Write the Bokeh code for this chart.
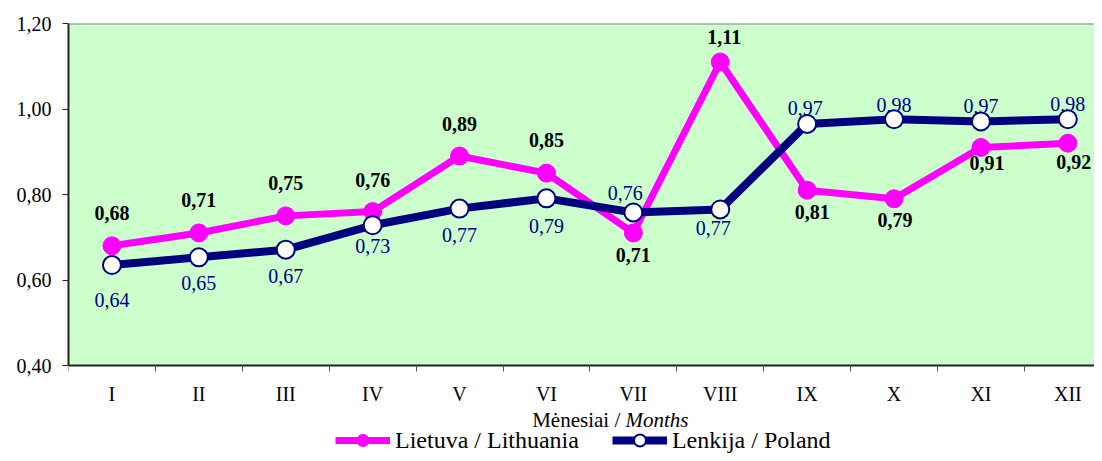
from bokeh.plotting import figure
from bokeh.models import (Range1d, FixedTicker, CustomJSTickFormatter, Span, Label,
                          Legend, LegendItem, ColumnDataSource, BoxAnnotation)
from bokeh.core.properties import value
from bokeh.embed import file_html
from bokeh.resources import INLINE

# ---- data ----
months = ["I", "II", "III", "IV", "V", "VI", "VII", "VIII", "IX", "X", "XI", "XII"]
lt_values = [0.68, 0.71, 0.75, 0.76, 0.89, 0.85, 0.71, 1.11, 0.81, 0.79, 0.91, 0.92]
lt_labels = ["0,68", "0,71", "0,75", "0,76", "0,89", "0,85", "0,71", "1,11", "0,81", "0,79", "0,91", "0,92"]
pl_values = [0.635, 0.653, 0.671, 0.728, 0.767, 0.791, 0.758, 0.765, 0.965, 0.976, 0.971, 0.976]
pl_labels = ["0,64", "0,65", "0,67", "0,73", "0,77", "0,79", "0,76", "0,77", "0,97", "0,98", "0,97", "0,98"]
y_ticks = [0.4, 0.6, 0.8, 1.0, 1.2]
y_min, y_max = 0.4, 1.2
lt_name = "Lietuva / Lithuania"
pl_name = "Lenkija / Poland"
x_title_a = "Mėnesiai / "
x_title_b = "Months"

# ---- label placement (screen px, positive = down) ----
lt_dx = [0, 0, 0, 0, 0, 0, 0, 4, 5, 1, 6, 6]
lt_dy = [-33, -33, -33, -32, -32, -33, 22, -25, 22, 21, 16, 19]
pl_dx = [0, 0, 0, 0, 0, 0, -8, -7, -2, 0, 0, 0]
pl_dy = [35, 26, 26, 21, 26, 28, -19, 19, -16, -14, -15, -15]

FONT = "Liberation Serif"
PINK = "#FF00FF"
NAVY = "#000080"

# layout (pixels)
W, H = 1094, 453
LEFT, TOP = 68, 23
PLOT_H = 342              # height of the green plot area
CAT_W = 86.9              # pixel width of one month slot
px_per_unit = PLOT_H / (y_max - y_min)
frame_h = H - TOP
y_low = y_max - frame_h / px_per_unit
x_high = (W - LEFT) / CAT_W

xs = [i + 0.5 for i in range(len(months))]
lt_src = ColumnDataSource(dict(x=xs, y=lt_values, t=lt_labels, dx=lt_dx, dy=lt_dy))
pl_src = ColumnDataSource(dict(x=xs, y=pl_values, t=pl_labels, dx=pl_dx, dy=pl_dy))

p = figure(width=W, height=H, output_backend="svg", toolbar_location=None,
           x_range=Range1d(0, x_high), y_range=Range1d(y_low, y_max),
           min_border_left=LEFT, min_border_right=0, min_border_top=TOP, min_border_bottom=0)
p.background_fill_color = "white"
p.border_fill_color = "white"
p.outline_line_color = None
p.xgrid.visible = False
p.ygrid.visible = False

p.add_layout(BoxAnnotation(bottom=y_min, top=y_max, left=0, right=x_high,
                           fill_color="#CCFFCC", fill_alpha=1, line_color=None, level="underlay"))
p.add_layout(Span(location=y_max, dimension="width", line_color="#808080", line_width=2))

# axes
p.yaxis.bounds = (y_min, y_max)
p.yaxis.ticker = FixedTicker(ticks=y_ticks)
p.yaxis.formatter = CustomJSTickFormatter(code="return tick.toFixed(2).replace('.', ',');")
p.yaxis.major_label_text_font = FONT
p.yaxis.major_label_text_font_size = "20px"
p.yaxis.major_label_text_color = "black"
p.yaxis.major_tick_in = 0
p.yaxis.major_tick_out = 6
p.yaxis.minor_tick_line_color = None
p.yaxis.major_label_standoff = 11
p.yaxis.axis_line_color = "#222222"
p.yaxis.axis_line_width = 2
p.yaxis.major_tick_line_color = "#222222"

p.xaxis.fixed_location = y_min
p.xaxis.ticker = FixedTicker(ticks=xs, minor_ticks=list(range(0, 13)))
p.xaxis.formatter = CustomJSTickFormatter(args=dict(labels=months),
                                          code="return labels[Math.round(tick - 0.5)];")
p.xaxis.major_label_text_font = FONT
p.xaxis.major_label_text_font_size = "20px"
p.xaxis.major_label_text_color = "black"
p.xaxis.major_tick_in = 0
p.xaxis.major_tick_out = 0
p.xaxis.minor_tick_in = 0
p.xaxis.minor_tick_out = 6
p.xaxis.minor_tick_line_color = "#555555"
p.xaxis.major_label_standoff = 11
p.xaxis.axis_line_color = "#222222"
p.xaxis.axis_line_width = 2

# series
lt_line = p.line("x", "y", source=lt_src, line_color=PINK, line_width=7)
lt_mark = p.scatter("x", "y", source=lt_src, size=18, fill_color=PINK, line_color=PINK)
pl_line = p.line("x", "y", source=pl_src, line_color=NAVY, line_width=8)
p.text("x", "y", text="t", source=pl_src, x_offset="dx", y_offset="dy",
       text_font=value(FONT), text_font_size="20px",
       text_color=NAVY, text_align="center", text_baseline="middle")
pl_mark = p.scatter("x", "y", source=pl_src, size=18, fill_color="white", line_color=NAVY, line_width=2)

p.text("x", "y", text="t", source=lt_src, x_offset="dx", y_offset="dy",
       text_font=value(FONT), text_font_size="20px", text_font_style="bold",
       text_color="black", text_align="center", text_baseline="middle")

# axis title (screen units from frame bottom-left)
p.add_layout(Label(x=557, y=34, x_units="screen", y_units="screen", text=x_title_a,
                   text_font=FONT, text_font_size="21px", text_align="right",
                   text_baseline="alphabetic", text_color="black"))
p.add_layout(Label(x=557, y=34, x_units="screen", y_units="screen", text=x_title_b,
                   text_font=FONT, text_font_size="21px", text_font_style="italic",
                   text_align="left", text_baseline="alphabetic", text_color="black"))

legend = Legend(items=[LegendItem(label=lt_name, renderers=[lt_line, lt_mark]),
                       LegendItem(label=pl_name, renderers=[pl_line, pl_mark])],
                orientation="horizontal", location=(267, -2),
                glyph_width=55, glyph_height=30, label_height=30,
                label_standoff=5, spacing=33, padding=0, margin=0,
                border_line_color=None, background_fill_alpha=0,
                label_text_font=FONT, label_text_font_size="24px", label_text_color="black")
p.add_layout(legend, "center")

open("out.html", "w").write(file_html(p, INLINE))
